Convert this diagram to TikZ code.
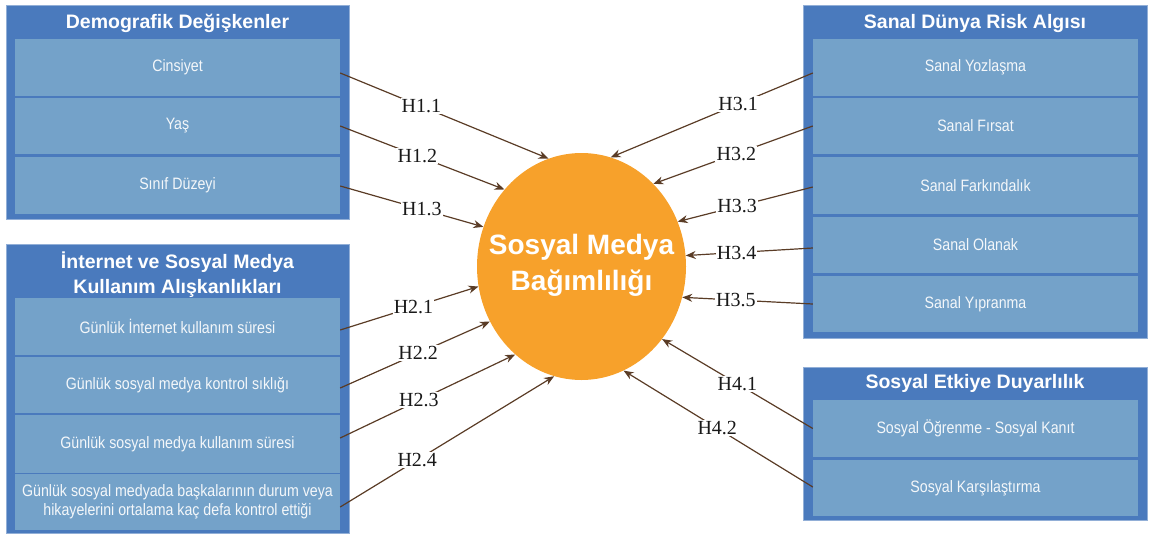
\documentclass[tikz,border=0pt]{standalone}
\usepackage{fontspec}
\setmainfont{Liberation Serif}
\newfontfamily\sansb{Liberation Sans}
\newfontfamily\cellf[FakeStretch=0.86]{Liberation Sans}
\usetikzlibrary{arrows.meta,calc,shapes.geometric}
\definecolor{outerblue}{RGB}{74,122,189}
\definecolor{cellblue}{RGB}{116,162,201}
\definecolor{orng}{RGB}{247,161,43}
\definecolor{brn}{RGB}{90,60,38}
\definecolor{lbltxt}{RGB}{25,25,25}
\definecolor{celltxt}{RGB}{244,247,250}
\begin{document}
\begin{tikzpicture}[x=1pt,y=-1pt,
  outer/.style={fill=outerblue, draw=outerblue!60!white, line width=0.6pt, inner sep=0pt},
  cellbox/.style={fill=cellblue, inner sep=0pt, minimum width=325pt, text=celltxt,
    font=\cellf\fontsize{16.5}{19.5}\selectfont, align=center},
  title/.style={text=white, font=\sansb\bfseries\fontsize{19.5}{25}\selectfont, align=center, inner sep=0pt},
  lbl/.style={fill=white, text=lbltxt, font=\fontsize{20}{20}\selectfont, inner sep=1.2pt},
  arr/.style={draw=brn, line width=1.2pt, -{Stealth[length=10pt,width=8pt]}}]
\useasboundingbox (0,0) rectangle (1151,536);

% Group 1
\node[outer, minimum width=343pt, minimum height=214pt] (g1) at (177.5,112) {};
\node[title] (t1) at (177.5,23) {Demografik Değişkenler};
\node[cellbox, minimum height=57pt] (c1) at (177.5,67.5) {Cinsiyet};
\node[cellbox, minimum height=56pt] (c2) at (177.5,126) {Yaş};
\node[cellbox, minimum height=57pt] (c3) at (177.5,185.5) {Sınıf Düzeyi};

% Group 2
\node[outer, minimum width=343pt, minimum height=289pt] (g2) at (177.5,388.5) {};
\node[title] (t2) at (177.5,274.5) {İnternet ve Sosyal Medya\\Kullanım Alışkanlıkları};
\node[cellbox, minimum height=57pt] (d1) at (177.5,326.5) {Günlük İnternet kullanım süresi};
\node[cellbox, minimum height=56pt] (d2) at (177.5,385) {Günlük sosyal medya kontrol sıklığı};
\node[cellbox, minimum height=58pt] (d3) at (177.5,444) {Günlük sosyal medya kullanım süresi};
\node[cellbox, minimum height=56pt] (d4) at (177.5,502) {Günlük sosyal medyada başkalarının durum veya\\hikayelerini ortalama kaç defa kontrol ettiği};

% Group 3
\node[outer, minimum width=344pt, minimum height=333pt] (g3) at (975,171.5) {};
\node[title] (t3) at (975,23) {Sanal Dünya Risk Algısı};
\node[cellbox, minimum height=57pt] (r1) at (975.5,67.5) {Sanal Yozlaşma};
\node[cellbox, minimum height=56pt] (r2) at (975.5,126) {Sanal Fırsat};
\node[cellbox, minimum height=57pt] (r3) at (975.5,185.5) {Sanal Farkındalık};
\node[cellbox, minimum height=56pt] (r4) at (975.5,245) {Sanal Olanak};
\node[cellbox, minimum height=56pt] (r5) at (975.5,304) {Sanal Yıpranma};

% Group 4
\node[outer, minimum width=344pt, minimum height=153pt] (g4) at (975,443.5) {};
\node[title] (t4) at (975,383) {Sosyal Etkiye Duyarlılık};
\node[cellbox, minimum height=57pt] (s1) at (975.5,428.5) {Sosyal Öğrenme - Sosyal Kanıt};
\node[cellbox, minimum height=56pt] (s2) at (975.5,488) {Sosyal Karşılaştırma};

% Central ellipse
\node[ellipse, fill=orng, minimum width=209pt, minimum height=227pt, inner sep=0pt] (E) at (581.5,266.5) {};
\node[text=white, align=center, inner sep=0pt, font=\sansb\bfseries\fontsize{28}{36}\selectfont] (Et) at (581.5,265)
  {Sosyal Medya\\Bağımlılığı};

% Connectors
\draw[arr] ($(c1.east)+(0,5.5)$) -- node[lbl,pos=0.39]{H1.1} (E.107.3);
\draw[arr] (c2.east) -- node[lbl,pos=0.47]{H1.2} (E.135.4);
\draw[arr] ($(c3.east)+(0,0.5)$) -- node[lbl,pos=0.57]{H1.3} (E.158.3);

\draw[arr] ($(d1.east)+(0,3.5)$) -- node[lbl,pos=0.53]{H2.1} (E.191.1);
\draw[arr] ($(d2.east)+(0,3)$) -- node[lbl,pos=0.52]{H2.2} (E.211.4);
\draw[arr] ($(d3.east)+(0,-6)$) -- node[lbl,pos=0.45]{H2.3} (E.233.4);
\draw[arr] ($(d4.east)+(0,5)$) -- node[lbl,pos=0.36]{H2.4} (E.256.5);

\draw[arr] ($(r1.west)+(0,5.5)$) -- node[lbl,pos=0.37]{H3.1} (E.75.9);
\draw[arr] (r2.west) -- node[lbl,pos=0.48]{H3.2} (E.49.0);
\draw[arr] ($(r3.west)+(0,1.5)$) -- node[lbl,pos=0.56]{H3.3} (E.25.5);
\draw[arr] ($(r4.west)+(0,3)$) -- node[lbl,pos=0.6]{H3.4} (E.6.3);
\draw[arr] (r5.west) -- node[lbl,pos=0.59]{H3.5} (E.-17.2);

\draw[arr] (s1.west) -- node[lbl,pos=0.5]{H4.1} (E.-42.8);
\draw[arr] ($(s2.west)+(0,-1)$) -- node[lbl,pos=0.505]{H4.2} (E.-68.3);
\end{tikzpicture}
\end{document}
